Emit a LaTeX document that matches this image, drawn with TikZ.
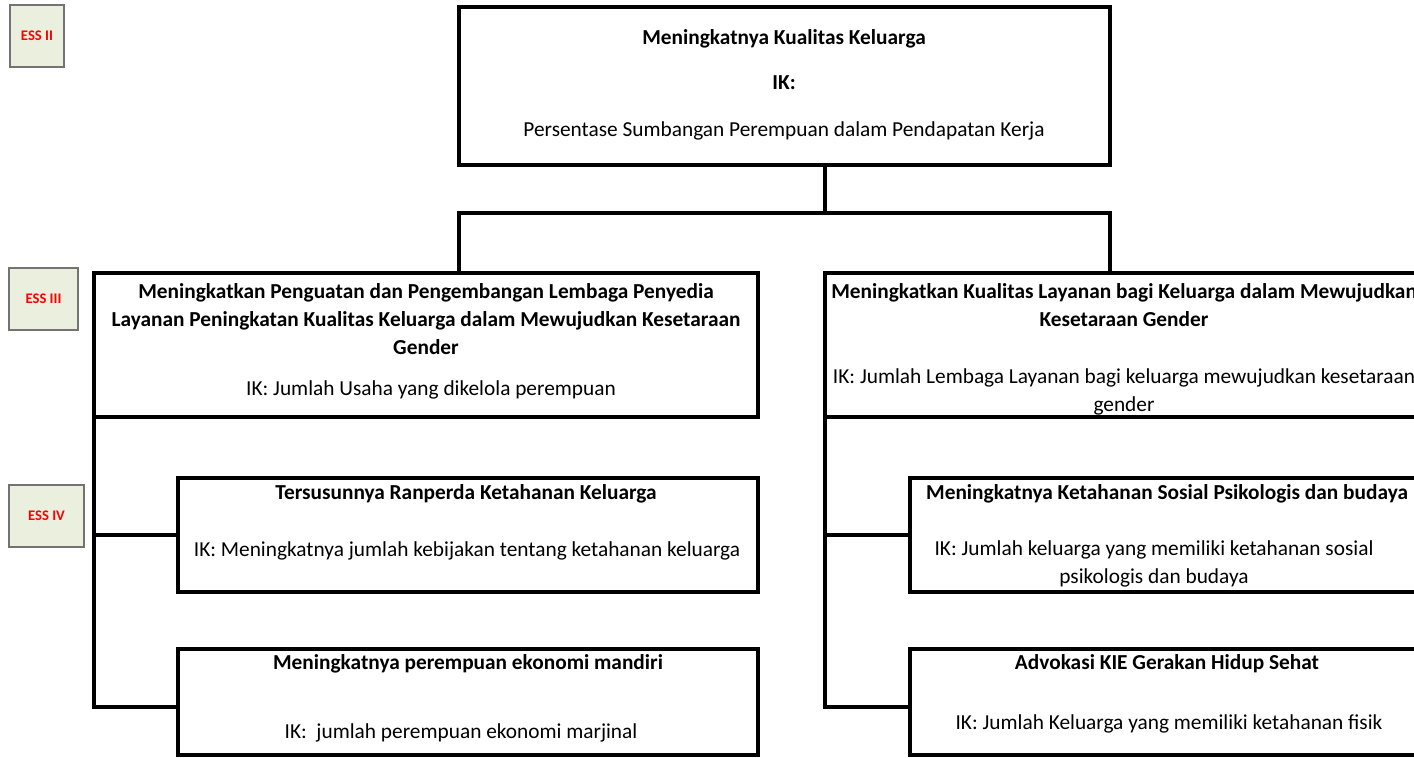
\documentclass[tikz,border=0pt]{standalone}
\usepackage{fontspec}
\setmainfont{Carlito}
\usetikzlibrary{shadows}
\begin{document}
\begin{tikzpicture}[x=0.75pt,y=-0.75pt,
  bx/.style 2 args={draw=black,line width=3pt,fill=white,rectangle,inner sep=0pt,
    minimum width=#1*0.75pt,minimum height=#2*0.75pt},
  conn/.style={draw=black,line width=3pt,line join=miter},
  txt/.style={inner sep=0pt,align=center,font=\fontsize{16}{21}\selectfont},
  btxt/.style={txt,font=\fontsize{16}{21}\selectfont\bfseries},
  ess/.style 2 args={draw=black!55,line width=0.8pt,fill=ess,rectangle,inner sep=0pt,
    minimum width=#1*0.75pt,minimum height=#2*0.75pt,
    text=red,font=\fontsize{11}{13}\selectfont\bfseries,
    drop shadow={shadow xshift=0.8pt,shadow yshift=-0.8pt,fill=black!35}}]
\definecolor{ess}{HTML}{EBF0DE}
\useasboundingbox (0,0) rectangle (1414,757);
\clip (0,0) rectangle (1414,757);
\fill[white] (0,0) rectangle (1414,757);

% ESS labels
\node[ess={54}{62}] (e2) at (37,36) {ESS II};
\node[ess={69}{62}] (e3) at (43.5,299) {ESS III};
\node[ess={75}{62}] (e4) at (46.5,516) {ESS IV};

% boxes
\node[bx={651}{158}] (top) at (784.5,86) {};
\node[bx={664}{144}] (l3L) at (426,345) {};
\node[bx={599}{144}] (l3R) at (1124.5,345) {};
\node[bx={580}{114}] (b4L) at (468,535) {};
\node[bx={580}{106}] (b5L) at (468,702) {};
\node[bx={514}{114}] (b4R) at (1167,535) {};
\node[bx={514}{106}] (b5R) at (1167,702) {};

% texts
\node[btxt] (t1) at (784,39) {Meningkatnya Kualitas Keluarga};
\node[btxt] (t2) at (784,83) {IK:};
\node[txt] (t3) at (784,131) {Persentase Sumbangan Perempuan dalam Pendapatan Kerja};

\node[btxt] (lt) at (426,319) {Meningkatkan Penguatan dan Pengembangan Lembaga Penyedia\\Layanan Peningkatan Kualitas Keluarga dalam Mewujudkan Kesetaraan\\Gender};
\node[txt] (li) at (431,390) {IK: Jumlah Usaha yang dikelola perempuan};

\node[btxt] (rt) at (1124,305) {Meningkatkan Kualitas Layanan bagi Keluarga dalam Mewujudkan\\Kesetaraan Gender};
\node[txt] (ri) at (1124,392) {IK: Jumlah Lembaga Layanan bagi keluarga mewujudkan kesetaraan\\gender};

\node[btxt] (b4Lt) at (466,494) {Tersusunnya Ranperda Ketahanan Keluarga};
\node[txt] (b4Li) at (467,551) {IK: Meningkatnya jumlah kebijakan tentang ketahanan keluarga};
\node[btxt] (b5Lt) at (468,664) {Meningkatnya perempuan ekonomi mandiri};
\node[txt] (b5Li) at (461,733) {IK:~~jumlah perempuan ekonomi marjinal};

\node[btxt] (b4Rt) at (1167,494) {Meningkatnya Ketahanan Sosial Psikologis dan budaya};
\node[txt] (b4Ri) at (1154,564) {IK: Jumlah keluarga yang memiliki ketahanan sosial\\psikologis dan budaya};
\node[btxt] (b5Rt) at (1167,664) {Advokasi KIE Gerakan Hidup Sehat};
\node[txt] (b5Ri) at (1169,724) {IK: Jumlah Keluarga yang memiliki ketahanan fisik};

% connectors
\coordinate (jt) at (825,213);
\coordinate (jl) at (459,213);
\coordinate (jr) at (1110,213);
\draw[conn] (jt |- top.south) -- (jt);
\draw[conn] (jl |- l3L.north) -- (jl) -- (jr) -- (jr |- l3R.north);

\coordinate (k5L) at (94,707);
\coordinate (k4L) at (94,535);
\draw[conn] (k5L |- l3L.south) -- (k5L) -- (k5L -| b5L.west);
\draw[conn] (k4L) -- (k4L -| b4L.west);

\coordinate (k5R) at (825,707);
\coordinate (k4R) at (825,535);
\draw[conn] (k5R |- l3R.south) -- (k5R) -- (k5R -| b5R.west);
\draw[conn] (k4R) -- (k4R -| b4R.west);
\end{tikzpicture}
\end{document}
